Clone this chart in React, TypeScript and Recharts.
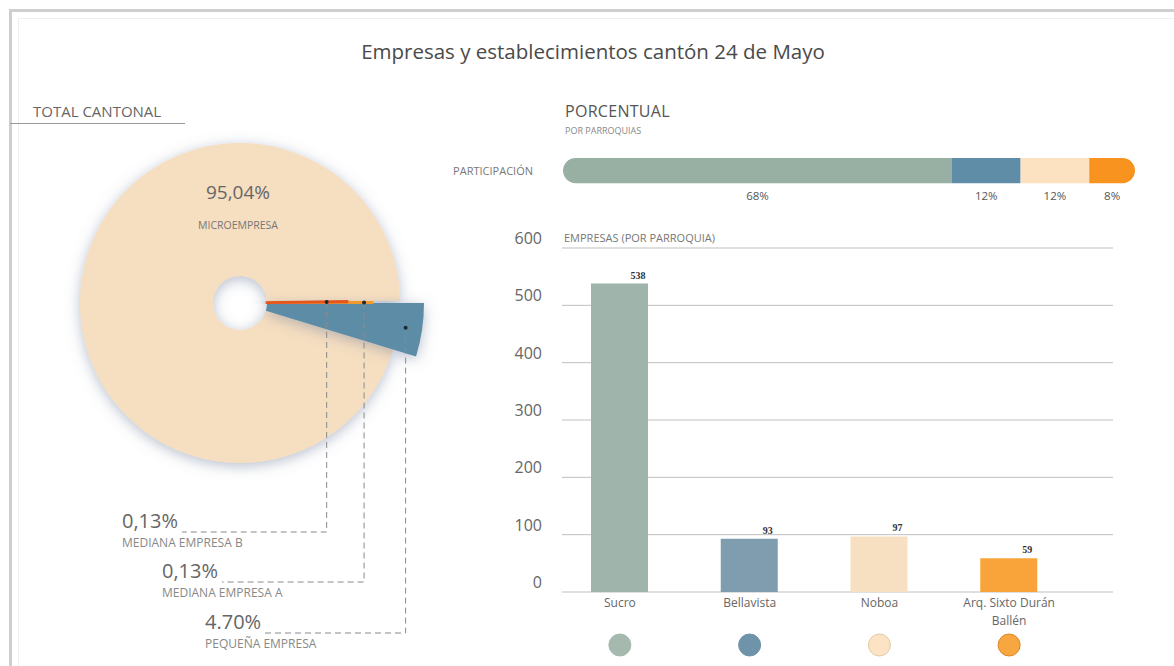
import React from 'react';
import {
  PieChart, Pie, Cell, BarChart, Bar, XAxis, YAxis, CartesianGrid, LabelList,
} from 'recharts';

// Pie: total cantonal by company size
const pieNames = ['PEQUEÑA EMPRESA', 'MEDIANA EMPRESA A', 'MEDIANA EMPRESA B', 'MICROEMPRESA'];
const pieValues = [4.7, 0.13, 0.13, 95.04];
const pieLabels = ['4.70%', '0,13%', '0,13%', '95,04%'];

// Parroquias
const parroquias = ['Sucro', 'Bellavista', 'Noboa', 'Arq. Sixto Durán Ballén'];
const empresas = [538, 93, 97, 59];
const participacion = [68, 12, 12, 8];
const yTicks = [0, 100, 200, 300, 400, 500, 600];

const pieColors = ['#5d8ca6', '#f29a2c', '#e5561e', '#f6dec0'];
const pieRadius = [184, 132, 107, 160];
const stackColors = ['#98b0a3', '#5f8ca6', '#fde2c2', '#f7931e'];
const barColors = ['#9fb5ab', '#7f9dae', '#f7dfc2', '#f8a43a'];
const dotColors = ['#a5b9af', '#6f93a8', '#fbe3c4', '#f7a640'];
const dotStroke = ['#a5b9af', '#6f93a8', '#e2c9a6', '#d98a2a'];

const FONT = '"Open Sans", sans-serif';
const GREY = '#666';

// where the leader lines of the small slices end up
const leaders: Record<number, { dot: number; lineY: number; textX: number }> = {
  0: { dot: 0.91, lineY: 633, textX: 205 },
  1: { dot: 0.94, lineY: 582, textX: 162 },
  2: { dot: 0.81, lineY: 532, textX: 122 },
};

const pieData = pieNames.map((name, i) => ({ name, value: pieValues[i] }));
const pieStart = -pieValues[0] * 3.6;

const barData = parroquias.map((name, i) => ({ name, value: empresas[i] }));
const stackRow: Record<string, any> = { name: 'PARTICIPACIÓN' };
participacion.forEach((v, i) => { stackRow['p' + i] = v; });

const RAD = Math.PI / 180;

function makeLabel(visible: number) {
  return (props: any) => {
    if (props.index !== visible) return null;
    const { cx, cy, midAngle, outerRadius, index } = props;
    if (index === 3) {
      return (
        <g fontFamily={FONT}>
          <text x={cx - 2} y={cy - 104} textAnchor="middle" fontSize={19} fill={GREY}>{pieLabels[3]}</text>
          <text x={cx - 2} y={cy - 74} textAnchor="middle" fontSize={10.5} fill="#777">{pieNames[3]}</text>
        </g>
      );
    }
    const cfg = leaders[index];
    const r = outerRadius * cfg.dot;
    const x = cx + r * Math.cos(-midAngle * RAD);
    const y = cy + r * Math.sin(-midAngle * RAD);
    return (
      <g fontFamily={FONT}>
        <polyline
          points={`${x},${y} ${x},${cfg.lineY} ${cfg.textX + 60},${cfg.lineY}`}
          fill="none" stroke="#8a8a8a" strokeWidth={1} strokeDasharray="6 4"
        />
        <circle cx={x} cy={y} r={2} fill="#1e2a33" />
        <text x={cfg.textX} y={cfg.lineY - 4} fontSize={20} fill={GREY}>{pieLabels[index]}</text>
        <text x={cfg.textX} y={cfg.lineY + 15} fontSize={12} fill="#888">{pieNames[index]}</text>
      </g>
    );
  };
}

const YTick = (props: any) => {
  const { x, y, payload } = props;
  return (
    <text x={x} y={y - 4} textAnchor="end" fontSize={16} fontFamily={FONT} fill={GREY}>
      {payload.value}
    </text>
  );
};

const XTick = (props: any) => {
  const { x, y, payload, index } = props;
  const words = String(payload.value).split(' ');
  const lines: string[] = [];
  words.forEach((w) => {
    const last = lines[lines.length - 1];
    if (last && (last + ' ' + w).length <= 16) lines[lines.length - 1] = last + ' ' + w;
    else lines.push(w);
  });
  return (
    <g fontFamily={FONT}>
      {lines.map((l, i) => (
        <text key={i} x={x} y={y + 15 + i * 18} textAnchor="middle" fontSize={12} fill={GREY}>{l}</text>
      ))}
      <circle cx={x} cy={y + 53} r={11} fill={dotColors[index]} stroke={dotStroke[index]} strokeWidth={1} />
    </g>
  );
};

const BarValue = (props: any) => {
  const { x, y, width, value } = props;
  return (
    <text x={x + width - 10} y={y - 5} textAnchor="middle" fontSize={10} fontWeight="bold"
      fontFamily='"Liberation Serif", serif' fill="#333">
      {value}
    </text>
  );
};

const StackValue = (props: any) => {
  const { x, y, width, height, value } = props;
  return (
    <text x={x + width / 2} y={y + height + 17} textAnchor="middle" fontSize={11.5}
      fontFamily={FONT} fill="#555">
      {value}%
    </text>
  );
};

const text = (style: React.CSSProperties, content: string) => (
  <div style={{ position: 'absolute', fontFamily: FONT, color: GREY, whiteSpace: 'nowrap', lineHeight: 1, ...style }}>
    {content}
  </div>
);

export default function App() {
  const pies = [3, 0, 1, 2];
  return (
    <div style={{ position: 'absolute', left: 0, top: 0, width: 1174, height: 666, overflow: 'hidden', background: '#fff' }}>
      <style>{`.shadowed .recharts-pie-sector path { filter: url(#pieShadow); }`}</style>
      <svg width={0} height={0} style={{ position: 'absolute' }}>
        <defs>
          <filter id="pieShadow" x="-30%" y="-30%" width="160%" height="160%">
            <feDropShadow dx="0" dy="3" stdDeviation="7" floodColor="#6f7f99" floodOpacity="0.5" />
          </filter>
        </defs>
      </svg>

      {/* frame */}
      <div style={{ position: 'absolute', left: 9, top: 9, width: 1300, height: 800, borderTop: '3px solid #cfcfcf', borderLeft: '3px solid #cfcfcf' }} />
      <div style={{ position: 'absolute', left: 18, top: 18, width: 1300, height: 800, borderTop: '1px solid #f0f0f0', borderLeft: '1px solid #f0f0f0' }} />

      {text({ left: 0, width: 1174, top: 41, textAlign: 'center', fontSize: 20.5, color: '#4a4a4a', paddingLeft: 12, boxSizing: 'border-box' }, 'Empresas y establecimientos cantón 24 de Mayo')}

      {text({ left: 33, top: 104, fontSize: 15 }, 'TOTAL CANTONAL')}
      <div style={{ position: 'absolute', left: 10, top: 123, width: 175, height: 1, background: '#9a9a9a' }} />

      {text({ left: 565, top: 103, fontSize: 16, letterSpacing: 0.3, color: '#555' }, 'PORCENTUAL')}
      {text({ left: 565, top: 126, fontSize: 9, color: '#888' }, 'POR PARROQUIAS')}
      {text({ left: 400, width: 133, top: 165, fontSize: 11, textAlign: 'right', color: '#777' }, 'PARTICIPACIÓN')}
      {text({ left: 564, top: 232, fontSize: 11, color: '#777' }, 'EMPRESAS (POR PARROQUIA)')}

      {/* pie */}
      <div style={{ position: 'absolute', left: 0, top: 0 }}>
        <PieChart width={470} height={666} margin={{ top: 0, right: 0, bottom: 0, left: 0 }}>
          {pies.map((vis) => (
            <Pie
              key={vis}
              className="shadowed"
              data={pieData}
              dataKey="value"
              cx={240}
              cy={303}
              innerRadius={27}
              outerRadius={pieRadius[vis]}
              startAngle={pieStart}
              endAngle={pieStart + 360}
              stroke="none"
              label={makeLabel(vis)}
              labelLine={false}
              isAnimationActive={false}
            >
              {pieData.map((_, i) => (
                <Cell
                  key={i}
                  fill={i === vis ? pieColors[i] : 'transparent'}
                  stroke={i === vis && (i === 1 || i === 2) ? pieColors[i] : 'none'}
                  strokeWidth={i === vis && (i === 1 || i === 2) ? 2.5 : 0}
                />
              ))}
            </Pie>
          ))}
        </PieChart>
      </div>

      {/* participation bar */}
      <div style={{ position: 'absolute', left: 563, top: 150 }}>
        <BarChart width={572} height={60} data={[stackRow]} layout="vertical" barCategoryGap={0}
          margin={{ top: 7, right: 0, bottom: 25, left: 0 }}>
          <XAxis type="number" domain={[0, 100]} hide />
          <YAxis type="category" dataKey="name" hide />
          {participacion.map((_, i) => (
            <Bar key={i} dataKey={'p' + i} stackId="a" fill={stackColors[i]} barSize={28}
              radius={i === 0 ? [14, 0, 0, 14] : i === participacion.length - 1 ? [0, 14, 14, 0] : 0}
              isAnimationActive={false}>
              <LabelList dataKey={'p' + i} content={StackValue} />
            </Bar>
          ))}
        </BarChart>
      </div>

      {/* empresas por parroquia */}
      <div style={{ position: 'absolute', left: 490, top: 220 }}>
        <BarChart width={643} height={446} data={barData}
          margin={{ top: 28, right: 20, bottom: 0, left: 0 }}>
          <CartesianGrid vertical={false} stroke="#bfbfbf" />
          <XAxis dataKey="name" interval={0} axisLine={false} tickLine={false} tickSize={0} tickMargin={0}
            height={74} padding={{ left: -7, right: 39 }} tick={<XTick />} />
          <YAxis domain={[0, 600]} ticks={yTicks} axisLine={false} tickLine={false} tickSize={0} tickMargin={20}
            width={72} tick={<YTick />} />
          <Bar dataKey="value" barSize={57} isAnimationActive={false}>
            {barData.map((_, i) => (
              <Cell key={i} fill={barColors[i]} />
            ))}
            <LabelList dataKey="value" content={BarValue} />
          </Bar>
        </BarChart>
      </div>
    </div>
  );
}
